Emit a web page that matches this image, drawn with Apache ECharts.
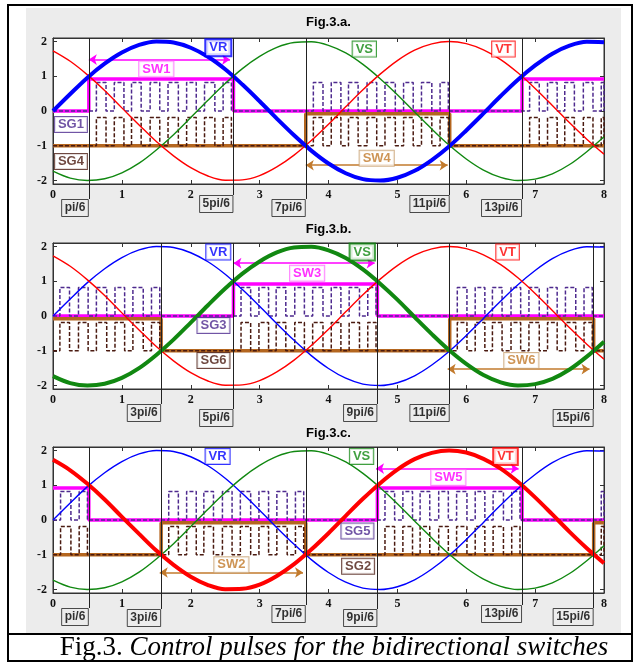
<!DOCTYPE html>
<html><head><meta charset="utf-8">
<script src="https://cdn.jsdelivr.net/npm/echarts@6/dist/echarts.min.js"></script>
<style>html,body{margin:0;padding:0;background:#fff}#c{width:638px;height:666px}</style>
</head><body><div id="c"></div>
<script>
// ---------------- data ----------------
const sampleX = [0,0.25,0.5,0.75,1,1.25,1.5,1.75,2,2.25,2.5,2.75,3,3.25,3.5,3.75,4,4.25,4.5,4.75,5,5.25,5.5,5.75,6,6.25,6.5,6.75,7,7.25,7.5,7.75,8];
const vR = [0,0.49,0.96,1.36,1.68,1.90,2.00,1.97,1.82,1.56,1.20,0.76,0.28,-0.22,-0.70,-1.14,-1.51,-1.79,-1.96,-2.00,-1.92,-1.72,-1.41,-1.02,-0.56,-0.07,0.43,0.90,1.31,1.65,1.88,1.99,1.98];
const vS = [-1.73,-1.93,-2.00,-1.95,-1.78,-1.50,-1.12,-0.68,-0.19,0.31,0.79,1.22,1.57,1.83,1.97,1.99,1.89,1.67,1.34,0.93,0.47,-0.03,-0.52,-0.98,-1.38,-1.70,-1.91,-2.00,-1.96,-1.81,-1.54,-1.17,-0.74];
const vT = [1.73,1.43,1.04,0.59,0.09,-0.40,-0.88,-1.29,-1.63,-1.87,-1.99,-1.98,-1.86,-1.61,-1.27,-0.85,-0.38,0.12,0.61,1.06,1.45,1.75,1.93,2.00,1.94,1.76,1.48,1.10,0.65,0.16,-0.34,-0.81,-1.24];
const yTicks = [-2,-1,0,1,2];
const xTicks = [0,1,2,3,4,5,6,7,8];

// PWM pulse edges, relative to the start of a 120-degree conduction interval
const pulseOn  = [0.11,0.37,0.62,0.89,1.15,1.42,1.68,1.95];
const pulseOff = [0.25,0.51,0.76,1.03,1.30,1.56,1.83,2.07];
const upperLevels = [0, 0.92];     // thick magenta: off / on
const lowerLevels = [-1, -0.08];   // thick brown: off / on
const upperPulse = [0, 0.82];      // purple dashed pulses
const lowerPulse = [-1, -0.19];    // dark brown dashed pulses

const panelTitles = ['Fig.3.a.','Fig.3.b.','Fig.3.c.'];
const upperOn = [[[0.52,2.62],[6.81,8.91]], [[2.62,4.71]], [[-1.57,0.52],[4.71,6.81]]];
const lowerOn = [[[3.67,5.76]], [[-0.52,1.57],[5.76,7.85]], [[1.57,3.67],[7.85,9.95]]];
const thickPhase = [0,1,2]; // VR thick in a, VS in b, VT in c

const markX = [[0.52,2.62,3.67,5.76,6.81],[1.57,2.62,4.71,5.76,7.85],[0.52,1.57,3.67,4.71,6.81,7.85]];
const markText = [['pi/6','5pi/6','7pi/6','11pi/6','13pi/6'],['3pi/6','5pi/6','9pi/6','11pi/6','15pi/6'],['pi/6','3pi/6','7pi/6','9pi/6','13pi/6','15pi/6']];

const tagText = [['VR','VS','VT','SW1','SG1','SG4','SW4'],['VR','VS','VT','SW3','SG3','SG6','SW6'],['VR','VS','VT','SW5','SG5','SG2','SW2']];
const tagX = [[2.40,4.52,6.54,1.50,0.26,0.26,4.70],[2.40,4.49,6.60,3.69,2.33,2.33,6.80],[2.39,4.48,6.57,5.74,4.42,4.43,2.59]];
const tagY = [[1.82,1.78,1.78,1.21,-0.39,-1.45,-1.36],[1.84,1.84,1.84,1.23,-0.27,-1.28,-1.28],[1.83,1.83,1.83,1.22,-0.32,-1.33,-1.29]];

const arrowUpper = [[0.52,2.57,1.48],[2.62,4.67,1.52],[4.69,6.76,1.48]];
const arrowLower = [[3.67,5.73,-1.56],[5.73,7.79,-1.53],[1.55,3.63,-1.51]];

// ---------------- layout / style ----------------
const L = {left:53, right:34, plotTop:[38,243,447], plotH:146, titleY:[22,229,433], ovH:190,
  boxY:[[170,166,170,166,170],[170,175,170,170,175],[170,171,167,171,167,170]]};
const C = {blue:'#0000ff', green:'#118811', red:'#ff0000', mag:'#ff00ff', brown:'#b4661f',
  purple:'#4e2a8e', dbrown:'#4a1a10', sw:'#c27a2c'};
const phaseData = [vR, vS, vT];
const phaseColor = [C.blue, C.green, C.red];
const tagColor = [C.blue, C.green, C.red, C.mag, C.purple, C.dbrown, C.sw];
const tagBorder = [C.blue, C.green, C.red, '#ff66ff', C.purple, C.dbrown, '#c8a070'];

function stepLine(intervals, lv) {
  const lo = lv[0], hi = lv[1];
  const pts = [];
  const startHigh = intervals.some(([a,b]) => a <= 0 && b > 0);
  pts.push([0, startHigh ? hi : lo]);
  intervals.forEach(([a,b]) => {
    if (a > 0 && a < 8) pts.push([a, lo], [a, hi]);
    if (b > 0 && b < 8) pts.push([b, hi], [b, lo]);
  });
  const endHigh = intervals.some(([a,b]) => a < 8 && b >= 8);
  pts.push([8, endHigh ? hi : lo]);
  return pts;
}
function pulseTrain(starts, lv) {
  const lo = lv[0], hi = lv[1];
  const edges = [];
  starts.forEach(s => pulseOn.forEach((on, k) => {
    let a = s + on, b = s + pulseOff[k];
    if (b <= 0 || a >= 8) return;
    edges.push([Math.max(a, 0), Math.min(b, 8)]);
  }));
  edges.sort((p, q) => p[0] - q[0]);
  const pts = [[0, lo]];
  edges.forEach(([a,b]) => pts.push([a, lo], [a, hi], [b, hi], [b, lo]));
  pts.push([8, lo]);
  return pts;
}

const grid = [], xAxis = [], yAxis = [], series = [];
const axCol = '#333';
const tickFont = {color:'#111', fontFamily:'Liberation Serif', fontWeight:'bold', fontSize:12};

for (let p = 0; p < 3; p++) {
  const g = grid.length;
  grid.push({left:L.left, right:L.right, top:L.plotTop[p], height:L.plotH, show:true,
    backgroundColor:'#fff', borderColor:axCol, borderWidth:1});
  grid.push({left:L.left, right:L.right, top:L.plotTop[p], height:L.ovH, show:false});
  const xi = xAxis.length, yi = yAxis.length;
  xAxis.push({gridIndex:g, type:'value', min:0, max:8, position:'bottom',
    axisLine:{show:true, onZero:false, lineStyle:{color:axCol}},
    axisTick:{inside:true, length:4, customValues:xTicks, lineStyle:{color:axCol}},
    axisLabel:Object.assign({margin:5, customValues:xTicks}, tickFont), splitLine:{show:false}});
  xAxis.push({gridIndex:g, type:'value', min:0, max:8, position:'top',
    axisLine:{show:true, onZero:false, lineStyle:{color:axCol}},
    axisTick:{inside:true, length:4, customValues:xTicks, lineStyle:{color:axCol}},
    axisLabel:{show:false}, splitLine:{show:false}});
  xAxis.push({gridIndex:g+1, type:'value', min:0, max:8, show:false});
  yAxis.push({gridIndex:g, type:'value', min:-2.1, max:2.1, position:'left',
    axisLine:{show:true, onZero:false, lineStyle:{color:axCol}},
    axisTick:{show:true, inside:true, length:4, customValues:yTicks, lineStyle:{color:axCol}},
    axisLabel:Object.assign({margin:6, customValues:yTicks}, tickFont), splitLine:{show:false}});
  yAxis.push({gridIndex:g, type:'value', min:-2.1, max:2.1, position:'right',
    axisLine:{show:true, onZero:false, lineStyle:{color:axCol}},
    axisTick:{show:true, inside:true, length:4, customValues:yTicks, lineStyle:{color:axCol}},
    axisLabel:{show:false}, splitLine:{show:false}});
  yAxis.push({gridIndex:g+1, type:'value', min:0, max:L.ovH, inverse:true, show:false});

  const ax = {xAxisIndex:xi, yAxisIndex:yi};
  const active = upperOn[p].concat(lowerOn[p]).map(iv => iv[0]);
  series.push(Object.assign({type:'line', data:stepLine(upperOn[p], upperLevels), showSymbol:false,
    lineStyle:{color:C.mag, width:3.5}, z:2, animation:false}, ax));
  series.push(Object.assign({type:'line', data:stepLine(lowerOn[p], lowerLevels), showSymbol:false,
    lineStyle:{color:C.brown, width:3.5}, z:2, animation:false}, ax));
  series.push(Object.assign({type:'line', data:pulseTrain(active, upperPulse), showSymbol:false,
    lineStyle:{color:C.purple, width:1.5, type:[4,2]}, z:3, animation:false}, ax));
  series.push(Object.assign({type:'line', data:pulseTrain(active, lowerPulse), showSymbol:false,
    lineStyle:{color:C.dbrown, width:1.5, type:[4,2]}, z:3, animation:false}, ax));
  // arrows
  series.push(Object.assign({type:'lines', coordinateSystem:'cartesian2d', symbol:['arrow','arrow'], symbolSize:8,
    data:[{coords:[[arrowUpper[p][0],arrowUpper[p][2]],[arrowUpper[p][1],arrowUpper[p][2]]], lineStyle:{color:C.mag}},
          {coords:[[arrowLower[p][0],arrowLower[p][2]],[arrowLower[p][1],arrowLower[p][2]]], lineStyle:{color:C.sw}}],
    lineStyle:{width:1.5, opacity:1}, z:4, animation:false}, ax));
  // phase voltages
  for (let k = 0; k < 3; k++) {
    const thick = thickPhase[p] === k;
    series.push(Object.assign({type:'line', data:sampleX.map((x,i)=>[x, phaseData[k][i]]), smooth:0.35,
      showSymbol:false, lineStyle:{color:phaseColor[k], width: thick ? 4 : 1.4}, z: thick ? 6 : 5, animation:false}, ax));
  }
  // tags
  series.push(Object.assign({type:'scatter', symbolSize:1, itemStyle:{color:'transparent'}, z:8, animation:false,
    data:tagText[p].map((t,i)=>({value:[tagX[p][i], tagY[p][i]], name:t,
      label:{show:true, position:'inside', formatter:t, color:tagColor[i], fontFamily:'Liberation Sans', fontWeight:'bold',
        fontSize:13, lineHeight:14, padding:[1,3,0,3], backgroundColor:'#fff', borderColor:tagBorder[i],
        borderWidth:(i === thickPhase[p]) ? 2 : 1}}))}, ax));
  // vertical markers and their boxes (overlay)
  const ov = {xAxisIndex:xi+2, yAxisIndex:yi+2};
  series.push(Object.assign({type:'lines', coordinateSystem:'cartesian2d', symbol:'none',
    data:markX[p].map((x,i)=>({coords:[[x,0],[x,L.boxY[p][i]-9]]})),
    lineStyle:{color:'#222', width:1, opacity:1}, z:9, animation:false}, ov));
  series.push(Object.assign({type:'scatter', symbolSize:1, itemStyle:{color:'transparent'}, z:9, animation:false,
    data:markX[p].map((x,i)=>({value:[x, L.boxY[p][i]],
      label:{show:true, position:'left', distance:0, formatter:markText[p][i], color:'#000', fontFamily:'Liberation Sans',
        fontWeight:'bold', fontSize:12, lineHeight:14, padding:[2,3,1,3], borderColor:'#222', borderWidth:1}}))}, ov));
}

const graphic = [
  {type:'rect', shape:{x:26, y:8, width:595, height:626}, style:{fill:'#ececec'}, z:-10, silent:true},
  {type:'rect', shape:{x:8, y:5, width:624, height:656}, style:{fill:'none', stroke:'#000', lineWidth:2}, z:-5, silent:true},
  {type:'line', shape:{x1:8, y1:634, x2:632, y2:634}, style:{stroke:'#000', lineWidth:2}, z:-5, silent:true},
  {type:'text', x:334, y:648, style:{text:'{a|Fig.3. }{b|Control pulses for the bidirectional switches}',
    rich:{a:{fontFamily:'Liberation Serif', fontSize:27, fill:'#000'}, b:{fontFamily:'Liberation Serif', fontSize:27, fontStyle:'italic', fill:'#000'}},
    textAlign:'center', textVerticalAlign:'middle'}, z:1, silent:true}
];
panelTitles.forEach((t,p) => graphic.push({type:'text', x:328.5, y:L.titleY[p],
  style:{text:t, fontFamily:'Liberation Sans', fontWeight:'bold', fontSize:13, fill:'#000', textAlign:'center', textVerticalAlign:'middle'}, z:1, silent:true}));

const chart = echarts.init(document.getElementById('c'), null, {renderer:'canvas'});
chart.setOption({animation:false, grid, xAxis, yAxis, series, graphic});
</script></body></html>
